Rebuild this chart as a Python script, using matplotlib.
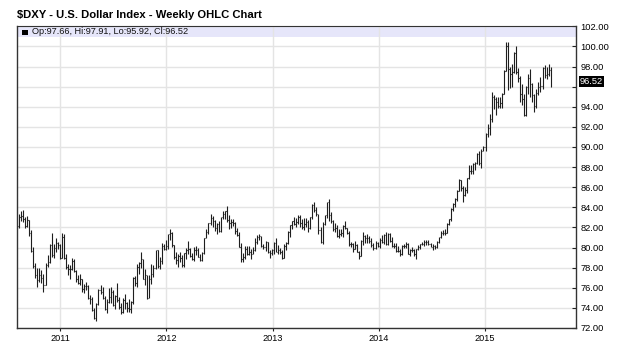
import matplotlib
matplotlib.use("Agg")
import matplotlib.pyplot as plt
import matplotlib.dates as mdates
from matplotlib.patches import Rectangle
import pandas as pd
import numpy as np
import datetime as dt

plt.rcParams['font.family'] = ['Liberation Sans', 'DejaVu Sans']

# ---------------- data (weekly, week ending Friday) ----------------
first_week = "2010-08-13"
first_open = 82.10

closes = [
    # 2010 (Aug 13 - Dec 31)
    83.0, 83.1, 82.8, 82.1, 82.7, 81.4, 79.7, 78.2, 77.3, 76.8, 77.3, 77.0, 76.3, 78.3, 78.6, 80.3,
    79.3, 80.0, 80.5, 80.3, 79.0,
    # 2011
    81.0, 79.0, 78.1, 77.9, 77.9, 78.7, 77.7, 76.9, 76.5, 76.9, 75.9, 76.2, 76.2, 75.0, 74.9, 73.8,
    73.0, 74.4, 75.8, 75.6, 75.0, 73.9, 74.6, 75.1, 75.6, 74.3, 75.2, 74.8, 74.1, 73.6, 74.8, 74.5,
    74.0, 73.9, 74.6, 77.0, 76.5, 78.1, 78.5, 78.9, 76.9, 77.3, 75.0, 76.9, 77.4, 78.0, 79.8, 78.2,
    78.7, 80.2, 79.9, 80.2,
    # 2012
    81.3, 81.4, 80.3, 79.1, 78.8, 79.2, 79.0, 78.3, 79.5, 79.8, 79.9, 79.2, 78.9, 79.8, 79.8, 79.1,
    78.8, 79.5, 80.9, 81.5, 82.4, 82.9, 82.6, 81.9, 82.3, 81.6, 83.0, 83.3, 83.6, 82.7, 82.4, 82.5,
    82.4, 81.6, 81.2, 80.1, 78.9, 79.1, 79.9, 79.4, 79.6, 79.4, 79.8, 80.6, 81.0, 81.1, 80.2, 80.1,
    80.6, 79.6, 79.5, 79.8,
    # 2013
    80.5, 79.6, 79.8, 79.6, 79.0, 80.2, 80.5, 81.5, 82.2, 82.6, 82.3, 82.5, 83.0, 82.4, 82.0, 82.3,
    82.5, 81.9, 83.0, 84.2, 83.7, 83.3, 81.7, 80.6, 82.3, 83.2, 84.5, 83.2, 82.6, 81.8, 81.9, 81.1,
    81.3, 81.4, 82.1, 81.9, 81.4, 80.4, 80.4, 79.9, 80.3, 79.6, 79.2, 80.7, 81.1, 80.9, 80.9, 80.7,
    80.3, 80.0, 80.5, 80.2,
    # 2014
    80.8, 80.6, 81.2, 80.4, 81.3, 80.7, 80.2, 80.2, 79.7, 79.7, 79.4, 80.2, 80.2, 80.4, 79.4, 79.8,
    79.8, 79.4, 79.9, 80.1, 80.4, 80.4, 80.6, 80.6, 80.4, 80.1, 80.2, 80.1, 80.6, 81.0, 81.4, 81.4,
    81.4, 82.3, 82.8, 83.8, 84.3, 84.8, 85.6, 86.7, 85.9, 85.2, 85.7, 86.9, 87.6, 87.6, 88.3, 88.4,
    89.3, 88.4, 89.6, 90.0,
    # 2015 (Jan 2 - Aug 14)
    91.3, 91.9, 92.8, 95.0, 94.8, 94.5, 94.1, 94.4, 95.3, 97.6, 100.0, 97.8, 97.3, 97.5, 99.3, 97.5,
    96.9, 95.3, 94.8, 93.2, 96.0, 96.9, 96.3, 95.2, 94.1, 95.4, 96.0, 96.1, 97.9, 97.2, 97.3, 97.66,
    96.52,
]

highs = [
    # 2010
    83.3, 83.6, 83.7, 83.0, 83.1, 82.7, 81.7, 80.1, 78.5, 78.0, 78.0, 77.8, 77.4, 78.5, 79.3, 80.4,
    81.4, 80.4, 80.9, 80.6, 80.4,
    # 2011
    81.4, 81.3, 79.4, 78.4, 78.3, 79.0, 78.9, 77.8, 77.3, 77.4, 76.9, 76.4, 76.6, 76.3, 75.3, 75.1,
    74.0, 74.5, 75.9, 76.3, 76.1, 75.2, 74.9, 76.0, 76.1, 75.8, 75.3, 76.5, 75.1, 74.5, 75.0, 75.4,
    74.6, 74.9, 74.7, 77.1, 77.2, 78.4, 78.6, 79.6, 78.8, 77.9, 77.3, 77.3, 78.4, 78.3, 79.8, 79.7,
    79.1, 80.5, 80.4, 80.8,
    # 2012
    81.3, 81.8, 81.5, 80.3, 79.6, 79.4, 79.6, 79.3, 79.5, 80.0, 80.7, 80.0, 79.5, 80.1, 80.2, 80.0,
    79.4, 79.6, 80.9, 81.8, 82.4, 83.3, 83.1, 82.7, 82.4, 82.6, 83.0, 83.6, 83.6, 84.1, 83.2, 82.8,
    82.8, 82.5, 81.9, 81.5, 80.5, 79.5, 80.2, 80.2, 80.2, 79.9, 80.1, 80.9, 81.2, 81.3, 81.0, 80.4,
    80.7, 80.6, 79.8, 79.9,
    # 2013
    80.6, 80.9, 80.3, 80.0, 79.8, 80.4, 80.6, 81.6, 82.2, 82.6, 83.0, 82.9, 83.2, 83.2, 82.8, 82.9,
    82.9, 82.7, 83.0, 84.3, 84.5, 84.0, 83.3, 82.0, 82.5, 83.2, 84.5, 84.8, 83.5, 82.7, 82.4, 82.2,
    81.8, 81.8, 82.2, 82.6, 81.9, 81.6, 80.6, 80.5, 80.7, 80.4, 79.7, 80.8, 81.5, 81.2, 81.3, 81.1,
    80.9, 80.5, 80.7, 80.6,
    # 2014
    80.9, 81.2, 81.3, 81.5, 81.4, 81.4, 81.0, 80.5, 80.5, 80.2, 79.9, 80.3, 80.4, 80.6, 80.5, 79.9,
    80.1, 79.9, 79.9, 80.3, 80.4, 80.6, 80.8, 80.8, 80.8, 80.5, 80.4, 80.3, 80.7, 81.0, 81.6, 81.7,
    81.8, 82.4, 82.8, 83.9, 84.4, 84.9, 85.7, 86.8, 86.7, 86.1, 86.0, 86.9, 88.2, 88.2, 88.4, 88.5,
    89.4, 89.6, 89.8, 90.1,
    # 2015
    91.4, 92.3, 93.3, 95.5, 95.2, 95.0, 95.0, 95.0, 95.4, 97.7, 100.4, 100.4, 98.0, 98.3, 99.4, 100.0,
    97.9, 97.1, 96.3, 95.3, 96.1, 97.3, 97.8, 96.4, 95.3, 95.8, 96.5, 97.0, 98.0, 98.2, 98.0, 98.3,
    97.91,
]

lows = [
    # 2010
    81.9, 82.6, 82.5, 81.9, 82.0, 81.1, 79.6, 78.0, 77.0, 76.1, 76.6, 76.5, 75.6, 76.6, 78.1, 78.5,
    79.1, 79.0, 79.6, 79.9, 78.9,
    # 2011
    79.0, 78.9, 77.9, 77.3, 76.9, 77.8, 77.6, 76.6, 76.4, 76.3, 75.6, 75.5, 75.8, 74.9, 74.4, 73.7,
    72.9, 72.7, 74.3, 75.4, 74.9, 73.8, 73.5, 74.5, 74.5, 74.2, 73.9, 74.6, 73.9, 73.4, 73.5, 73.9,
    73.6, 73.6, 73.5, 74.4, 76.2, 76.1, 77.4, 78.0, 76.9, 76.3, 74.9, 75.3, 76.4, 77.1, 77.9, 78.0,
    77.9, 78.4, 79.8, 79.8,
    # 2012
    79.9, 80.8, 80.1, 78.9, 78.4, 78.1, 78.6, 78.1, 78.1, 78.9, 79.4, 79.1, 78.8, 78.7, 79.3, 79.1,
    78.7, 78.7, 79.4, 80.9, 81.3, 82.2, 82.0, 81.6, 81.3, 81.5, 81.5, 82.8, 82.8, 82.5, 81.8, 81.9,
    82.1, 81.3, 81.1, 80.1, 78.6, 78.6, 78.9, 79.3, 79.3, 78.9, 79.4, 79.7, 80.4, 80.8, 80.1, 79.9,
    79.7, 79.5, 79.0, 79.3,
    # 2013
    79.4, 79.6, 79.4, 79.4, 78.9, 79.0, 79.8, 80.4, 81.0, 81.8, 82.2, 82.0, 82.3, 82.0, 81.8, 81.7,
    82.0, 81.5, 81.8, 82.8, 83.5, 83.1, 81.3, 80.5, 80.4, 82.2, 82.9, 82.6, 82.4, 81.6, 81.5, 81.0,
    80.9, 81.1, 81.0, 81.8, 81.3, 80.2, 80.1, 79.6, 79.9, 79.6, 78.9, 79.2, 80.3, 80.5, 80.5, 80.5,
    80.1, 79.8, 79.9, 80.1,
    # 2014
    80.0, 80.5, 80.4, 80.3, 80.3, 80.6, 80.1, 80.0, 79.6, 79.6, 79.2, 79.3, 80.0, 80.0, 79.4, 79.2,
    79.6, 79.2, 78.9, 79.8, 79.9, 80.3, 80.2, 80.3, 80.3, 80.1, 79.8, 79.9, 80.0, 80.5, 80.9, 81.2,
    81.2, 81.4, 82.2, 82.6, 83.6, 84.0, 84.6, 85.6, 85.6, 84.5, 85.1, 85.4, 86.8, 87.3, 87.3, 87.7,
    88.3, 88.2, 87.9, 89.6,
    # 2015
    89.6, 91.0, 91.2, 92.5, 93.8, 93.2, 93.9, 93.9, 93.9, 95.3, 97.6, 95.7, 95.9, 96.0, 97.4, 97.3,
    96.5, 94.5, 94.2, 93.1, 93.1, 95.3, 95.0, 94.5, 93.5, 93.9, 95.2, 95.5, 95.8, 96.9, 96.8, 97.1,
    95.92,
]

year_labels = ["2011", "2012", "2013", "2014", "2015"]
title = "$DXY - U.S. Dollar Index - Weekly OHLC Chart"

# ---------------- build OHLC ----------------
n = len(closes)
dates = pd.date_range(first_week, periods=n, freq="W-FRI")
x = mdates.date2num(dates.to_pydatetime())
c = np.array(closes)
o = np.concatenate([[first_open], c[:-1]])
h = np.maximum(np.array(highs), np.maximum(o, c))
l = np.minimum(np.array(lows), np.minimum(o, c))

# ---------------- figure ----------------
fig = plt.figure(figsize=(6.4, 3.51), dpi=100)
L, R, B, T = 17/640, 576/640, (351-328)/351, (351-26.3)/351
ax = fig.add_axes([L, B, R-L, T-B])

ax.set_xlim(mdates.date2num(dt.datetime(2010, 8, 6)), mdates.date2num(dt.datetime(2015, 11, 9)))
ax.set_ylim(72, 102)

bar_col = "#1e1e1e"
ax.vlines(x, l, h, color=bar_col, lw=0.8, zorder=3)
tick = 2.6
ax.hlines(o, x - tick, x, color=bar_col, lw=0.8, zorder=3)
ax.hlines(c, x, x + tick, color=bar_col, lw=0.8, zorder=3)

# grid
yt = np.arange(72, 102.1, 2)
ax.set_yticks(yt)
xt = [mdates.date2num(dt.datetime(int(y), 1, 1)) for y in year_labels]
ax.set_xticks(xt)
ax.set_xticklabels(year_labels)
ax.grid(True, color="#e4e4e4", lw=1.0, zorder=0)

# legend band
band_h = 11 / 301.7
ax.add_patch(Rectangle((0, 1 - band_h), 1, band_h, transform=ax.transAxes,
                       facecolor="#e6e6fa", edgecolor="none", zorder=1))
ax.add_patch(Rectangle((5/559, 1 - band_h + 2.3/301.7), 5.5/559, 5.5/301.7, transform=ax.transAxes,
                       facecolor="black", edgecolor="none", zorder=4))
ax.text(15/559, 1 - band_h/2, f"Op:{o[-1]:.2f}, Hi:{h[-1]:.2f}, Lo:{l[-1]:.2f}, Cl:{c[-1]:.2f}",
        transform=ax.transAxes, fontsize=6.6, va="center", ha="left", color="#111", zorder=4)

# axes styling
ax.yaxis.tick_right()
ax.yaxis.set_label_position("right")
ylabels = [f"{v:.2f}" if abs(v - 96) > 0.01 else "" for v in yt]
ax.set_yticklabels(ylabels)
ax.tick_params(axis="y", direction="in", length=3, width=0.8, labelsize=6.7, pad=3,
               colors="#222", labelcolor="black")
ax.tick_params(axis="x", direction="out", length=2, width=0.8, labelsize=6.6, pad=2,
               colors="#222", labelcolor="black")
for s in ["left", "bottom", "right"]:
    ax.spines[s].set_color("#333333")
    ax.spines[s].set_linewidth(1.0)
ax.spines["top"].set_color("#333333")
ax.spines["top"].set_linewidth(0.8)

# last value marker
ax.text(1.0, c[-1], f"{c[-1]:.2f}", transform=ax.get_yaxis_transform(), fontsize=6.7,
        color="white", va="center", ha="left",
        bbox=dict(boxstyle="square,pad=0.12", facecolor="black", edgecolor="none"))
# shift label a bit right of spine
for t in ax.texts[-1:]:
    t.set_x(1.0 + 4/559)

fig.text(17/640, 1 - 15.5/351, title, fontsize=8.1, fontweight="bold", va="center", ha="left")

fig.savefig("out.png", dpi=100)
